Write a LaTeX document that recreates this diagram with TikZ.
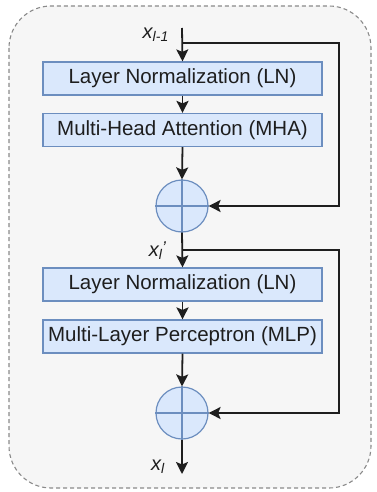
\documentclass[tikz,border=0pt]{standalone}
\usepackage{fontspec}
\setmainfont{Liberation Sans}
\usetikzlibrary{arrows.meta}
\definecolor{boxfill}{HTML}{DAE8FC}
\definecolor{boxline}{HTML}{6C8EBF}
\definecolor{ink}{HTML}{1E1E1E}
\definecolor{panel}{HTML}{F6F6F6}
\definecolor{panelline}{HTML}{8A8A8A}
\tikzset{
  blockbox/.style={draw=boxline, fill=boxfill, line width=1.2pt, minimum width=279pt,
    minimum height=33pt, inner sep=0pt, text=ink, font=\fontsize{20.5}{22}\selectfont},
  sumnode/.style={draw=boxline, fill=boxfill, line width=1.2pt, circle, minimum size=52pt, inner sep=0pt},
  flow/.style={draw=ink, line width=1.8pt, -{Stealth[length=12pt,width=12pt,inset=2.5pt]}},
  varlabel/.style={text=ink, inner sep=0pt, font=\fontsize{20}{22}\selectfont\itshape}
}
\begin{document}
\begin{tikzpicture}[x=1pt,y=-1pt]
  \useasboundingbox (0,0) rectangle (376,492);
  % enclosing block
  \draw[panelline, fill=panel, line width=1.1pt, dash pattern=on 4pt off 3pt, rounded corners=42pt]
    (9,6) rectangle (371,488);

  % coordinates of the residual path
  \coordinate (in) at (182,28);
  \coordinate (split1) at (182,43);
  \coordinate (split2) at (182,250);
  \coordinate (out) at (182,474);

  % blocks
  \node[blockbox] (ln1) at (182.5,78.5) {Layer Normalization (LN)};
  \node[blockbox] (mha) at (182.5,130) {Multi-Head Attention (MHA)};
  \node[sumnode] (add1) at (182,206) {};
  \node[blockbox] (ln2) at (182.5,284.5) {Layer Normalization (LN)};
  \node[blockbox] (mlp) at (182.5,336.5) {Multi-Layer Perceptron (MLP)};
  \node[sumnode] (add2) at (182,413) {};

  % plus signs inside the adders
  \foreach \s in {add1,add2} {
    \draw[boxline, line width=1.2pt] (\s.north) -- (\s.south) (\s.west) -- (\s.east);
  }

  % labels
  \node[varlabel, anchor=east] (xin) at (169,35) {x\textsubscript{l-1}};
  \node[varlabel, anchor=east] (xmid) at (166,251) {x\textsubscript{l}\kern-0.5pt\raisebox{0.25ex}{\fontsize{17}{17}\selectfont\char"2019}};
  \node[varlabel, anchor=east] (xout) at (165,467) {x\textsubscript{l}};

  % main path
  \draw[flow] (in) -- (ln1.north);
  \draw[flow] (ln1) -- (mha);
  \draw[flow] (mha.south) -- (add1.north);
  \draw[flow] (add1.south) -- (ln2.north);
  \draw[flow] (ln2) -- (mlp);
  \draw[flow] (mlp.south) -- (add2.north);
  \draw[flow] (add2.south) -- (out);

  % skip connections
  \draw[flow] (split1) -- (339,43) -- (339,206) -- (add1.east);
  \draw[flow] (split2) -- (339,250) -- (339,413) -- (add2.east);
\end{tikzpicture}
\end{document}
